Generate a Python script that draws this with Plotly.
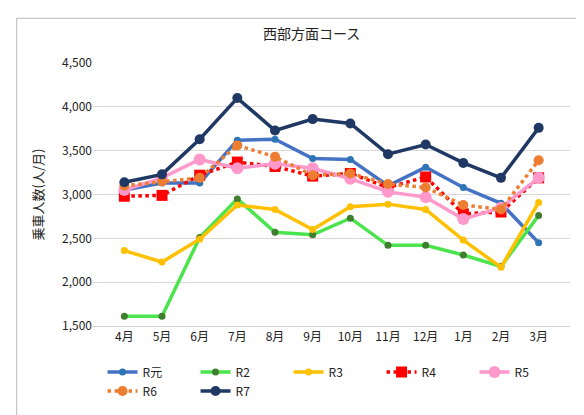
import plotly.graph_objects as go

months = ["4月", "5月", "6月", "7月", "8月", "9月", "10月", "11月", "12月", "1月", "2月", "3月"]

r_gen = [3050, 3130, 3130, 3620, 3630, 3410, 3400, 3100, 3310, 3080, 2900, 2450]
r2 = [1610, 1610, 2510, 2950, 2570, 2540, 2730, 2420, 2420, 2310, 2180, 2760]
r3 = [2360, 2230, 2490, 2880, 2830, 2600, 2860, 2890, 2830, 2480, 2170, 2910]
r4 = [2980, 2990, 3220, 3370, 3320, 3210, 3240, 3080, 3200, 2780, 2800, 3190]
r5 = [3050, 3190, 3400, 3300, 3350, 3300, 3180, 3030, 2970, 2720, 2850, 3190]
r6 = [3100, 3150, 3190, 3560, 3430, 3220, 3240, 3120, 3080, 2880, 2830, 3390]
r7 = [3140, 3230, 3630, 4100, 3730, 3860, 3810, 3460, 3570, 3360, 3190, 3760]

series = [
    ("R元", r_gen, "#4472C4", "solid", "circle", 7, "#2E75B6"),
    ("R2", r2, "#4CE44C", "solid", "circle", 7, "#3F7F2F"),
    ("R3", r3, "#FFC000", "solid", "circle", 7, "#FFC000"),
    ("R4", r4, "#FF0000", "dot", "square", 11, "#FF0000"),
    ("R5", r5, "#FF99CC", "solid", "circle", 12, "#FF99CC"),
    ("R6", r6, "#ED7D31", "dot", "circle", 10, "#ED7D31"),
    ("R7", r7, "#203864", "solid", "circle", 10, "#203864"),
]

fig = go.Figure()
for name, vals, color, dash, symbol, size, mcolor in series:
    fig.add_trace(go.Scatter(
        x=months, y=vals, name=name, mode="lines+markers",
        line=dict(color=color, width=3.5, dash=dash),
        marker=dict(symbol=symbol, size=size, color=mcolor),
    ))

fig.update_layout(
    width=584, height=415,
    paper_bgcolor="white", plot_bgcolor="white",
    font=dict(family="Noto Sans CJK JP", size=12, color="#222"),
    title=dict(text="西部方面コース", x=0.52, y=0.95, font=dict(size=14)),
    margin=dict(l=85, r=22, t=55, b=97),
    showlegend=True,
    legend=dict(orientation="h", x=0.02, xanchor="left", y=-0.12, yanchor="top",
                entrywidth=48, font=dict(size=12), tracegroupgap=0),
    shapes=[dict(type="rect", xref="paper", yref="paper", x0=-0.16, x1=1.03,
                 y0=-0.36, y1=1.17, line=dict(color="#BBB", width=1))],
)
fig.update_xaxes(showgrid=False, showline=True, linecolor="#D0D0D0", ticks="")
fig.update_yaxes(range=[1500, 4500], dtick=500, tickformat=",", gridcolor="#D9D9D9",
                 zeroline=False, title=dict(text="乗車人数(人/月)", font=dict(size=13)))

fig.write_html("out.html")
